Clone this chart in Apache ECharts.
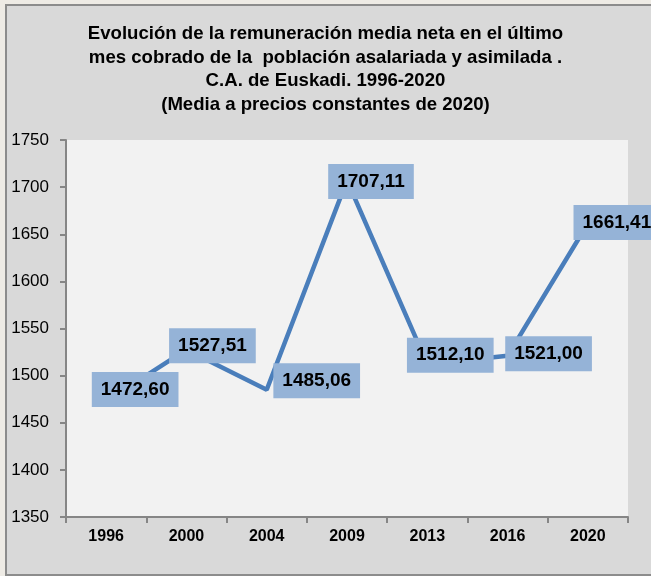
<!DOCTYPE html>
<html lang="es">
<head>
<meta charset="UTF-8">
<script src="https://cdn.jsdelivr.net/npm/echarts@6/dist/echarts.min.js"></script>
<title>Remuneración media</title>
<style>
  html, body { margin: 0; padding: 0; background: #eeebe5; }
</style>
</head>
<body>
<div id="main" style="width: 651px; height: 576px;"></div>
<script>
  // data
  var years = ['1996', '2000', '2004', '2009', '2013', '2016', '2020'];
  var remuneracion = [1472.60, 1527.51, 1485.06, 1707.11, 1512.10, 1521.00, 1661.41];
  var yTicks = { min: 1350, max: 1750, step: 50 };

  // where each label box sits relative to its point (layout only)
  var labelShift = [[29, -12], [26, -4], [50, -9], [24, 1], [23, -9], [41, -2], [29, -1]];

  var chart = echarts.init(document.getElementById('main'));

  var fmt = function (v) {
    return v.toFixed(2).replace('.', ',');
  };

  var option = {
    backgroundColor: '#eeebe5',
    animation: false,
    graphic: [{
      type: 'rect',
      shape: { x: 6, y: 5, width: 660, height: 570 },
      style: { fill: '#d9d9d9', stroke: '#8c8c8c', lineWidth: 2 },
      z: -10
    }],
    title: {
      text: 'Evolución de la remuneración media neta en el último\nmes cobrado de la  población asalariada y asimilada .\nC.A. de Euskadi. 1996-2020\n(Media a precios constantes de 2020)',
      left: 'center',
      top: 17,
      textStyle: {
        fontFamily: 'Liberation Sans',
        fontWeight: 'bold',
        fontSize: 18.6,
        lineHeight: 23.7,
        color: '#000'
      }
    },
    grid: {
      left: 66, right: 23, top: 140, bottom: 59,
      show: true,
      backgroundColor: '#f2f2f2',
      borderWidth: 0
    },
    xAxis: {
      type: 'category',
      data: years,
      boundaryGap: true,
      axisLine: { lineStyle: { color: '#868686', width: 2 } },
      axisTick: { show: true, length: 6, lineStyle: { color: '#868686', width: 2 } },
      axisLabel: {
        margin: 12,
        color: '#000',
        fontFamily: 'Liberation Sans',
        fontWeight: 'bold',
        fontSize: 16
      }
    },
    yAxis: {
      type: 'value',
      min: yTicks.min,
      max: yTicks.max,
      interval: yTicks.step,
      axisLine: { show: true, lineStyle: { color: '#868686', width: 2 } },
      axisTick: { show: true, length: 6, lineStyle: { color: '#868686', width: 2 } },
      splitLine: { show: false },
      axisLabel: {
        margin: 17,
        color: '#000',
        fontFamily: 'Liberation Sans',
        fontSize: 17,
        formatter: function (v) { return String(v); }
      }
    },
    series: [{
      type: 'line',
      data: remuneracion.map(function (v, i) {
        return {
          value: v,
          label: { offset: labelShift[i] }
        };
      }),
      showSymbol: true,
      symbol: 'circle',
      symbolSize: 0,
      lineStyle: { color: '#4a7ebb', width: 4.5 },
      itemStyle: { color: '#4a7ebb' },
      label: {
        show: true,
        position: 'inside',
        formatter: function (p) { return fmt(p.value); },
        backgroundColor: '#95b3d7',
        padding: [8, 9, 8, 9],
        color: '#000',
        fontFamily: 'Liberation Sans',
        fontWeight: 'bold',
        fontSize: 19
      }
    }]
  };

  chart.setOption(option);
</script>
</body>
</html>
